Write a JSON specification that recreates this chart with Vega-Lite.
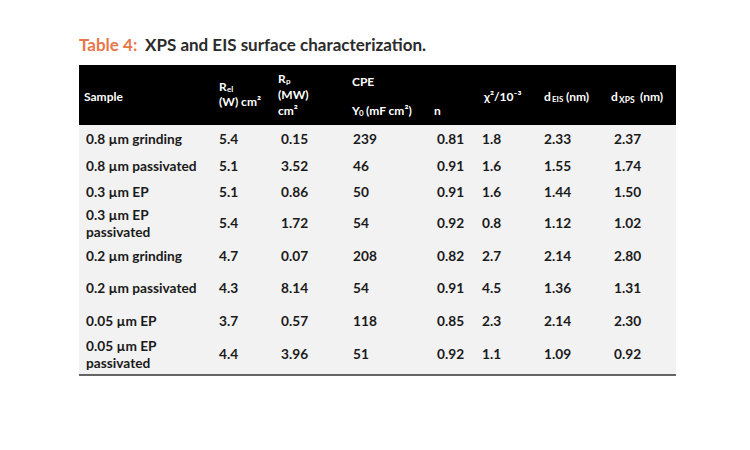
{
  "$schema": "https://vega.github.io/schema/vega-lite/v6.json",
  "background": "white",
  "padding": {"left": 78, "top": 34, "right": 0, "bottom": 0},
  "config": {
    "view": {"stroke": null},
    "concat": {"spacing": 0},
    "text": {"font": "Lato", "fontWeight": "bold", "align": "left", "baseline": "middle"}
  },
  "datasets": {
    "xps": [
      {"Sample": "0.8 µm grinding", "Rel": 5.4, "Rp": 0.15, "Y0": 239, "n": 0.81, "chi2": 1.8, "dEIS": 2.33, "dXPS": 2.37},
      {"Sample": "0.8 µm passivated", "Rel": 5.1, "Rp": 3.52, "Y0": 46, "n": 0.91, "chi2": 1.6, "dEIS": 1.55, "dXPS": 1.74},
      {"Sample": "0.3 µm EP", "Rel": 5.1, "Rp": 0.86, "Y0": 50, "n": 0.91, "chi2": 1.6, "dEIS": 1.44, "dXPS": 1.50},
      {"Sample": "0.3 µm EP\npassivated", "Rel": 5.4, "Rp": 1.72, "Y0": 54, "n": 0.92, "chi2": 0.8, "dEIS": 1.12, "dXPS": 1.02},
      {"Sample": "0.2 µm grinding", "Rel": 4.7, "Rp": 0.07, "Y0": 208, "n": 0.82, "chi2": 2.7, "dEIS": 2.14, "dXPS": 2.80},
      {"Sample": "0.2 µm passivated", "Rel": 4.3, "Rp": 8.14, "Y0": 54, "n": 0.91, "chi2": 4.5, "dEIS": 1.36, "dXPS": 1.31},
      {"Sample": "0.05 µm EP", "Rel": 3.7, "Rp": 0.57, "Y0": 118, "n": 0.85, "chi2": 2.3, "dEIS": 2.14, "dXPS": 2.30},
      {"Sample": "0.05 µm EP\npassivated", "Rel": 4.4, "Rp": 3.96, "Y0": 51, "n": 0.92, "chi2": 1.1, "dEIS": 1.09, "dXPS": 0.92}
    ]
  },
  "spacing": 0,
  "vconcat": [
    {
      "width": 597, "height": 31,
      "data": {"values": [{"number": "Table 4:", "caption": "XPS and EIS surface characterization."}]},
      "encoding": {"x": {"datum": "title", "type": "nominal", "scale": {"type": "band", "paddingInner": 0, "paddingOuter": 0}, "bandPosition": 0, "axis": null}},
      "layer": [
        {"mark": {"type": "text", "baseline": "alphabetic", "fontSize": 17, "color": "#E8774A", "dy": 1}, "encoding": {"text": {"field": "number"}}},
        {"mark": {"type": "text", "baseline": "alphabetic", "fontSize": 17, "color": "#2b2b2b", "dx": 66, "dy": 1}, "encoding": {"text": {"field": "caption"}}}
      ]
    },
    {
      "spacing": 0,
      "bounds": "flush",
      "hconcat": [
        {"width": 135, "height": 60, "view": {"fill": "#000000"}, "data": {"values": [{}]},
         "encoding": {"x": {"datum": "Sample", "type": "nominal", "scale": {"type": "band", "paddingInner": 0, "paddingOuter": 0}, "bandPosition": 0, "axis": null}},
         "layer": [
           {"mark": {"type": "text", "text": "Sample", "dx": 5, "dy": 2, "fontSize": 12, "color": "white"}}
         ]},
        {"width": 62, "height": 60, "view": {"fill": "#000000"}, "data": {"values": [{}]},
         "encoding": {"x": {"datum": "Rel", "type": "nominal", "scale": {"type": "band", "paddingInner": 0, "paddingOuter": 0}, "bandPosition": 0, "axis": null}},
         "layer": [
           {"mark": {"type": "text", "text": "R", "dx": 5, "dy": -8, "fontSize": 12, "color": "white"}},
           {"mark": {"type": "text", "text": "el", "dx": 13, "dy": -5, "fontSize": 8, "color": "white"}},
           {"mark": {"type": "text", "text": "(W) cm²", "dx": 5, "dy": 7, "fontSize": 12, "color": "white"}}
         ]},
        {"width": 72, "height": 60, "view": {"fill": "#000000"}, "data": {"values": [{}]},
         "encoding": {"x": {"datum": "Rp", "type": "nominal", "scale": {"type": "band", "paddingInner": 0, "paddingOuter": 0}, "bandPosition": 0, "axis": null}},
         "layer": [
           {"mark": {"type": "text", "text": "R", "dx": 2, "dy": -16, "fontSize": 12, "color": "white"}},
           {"mark": {"type": "text", "text": "p", "dx": 10, "dy": -13, "fontSize": 8, "color": "white"}},
           {"mark": {"type": "text", "text": "(MW)", "dx": 2, "dy": 0, "fontSize": 12, "color": "white"}},
           {"mark": {"type": "text", "text": "cm²", "dx": 2, "dy": 16, "fontSize": 12, "color": "white"}}
         ]},
        {"width": 84, "height": 60, "view": {"fill": "#000000"}, "data": {"values": [{}]},
         "encoding": {"x": {"datum": "Y0", "type": "nominal", "scale": {"type": "band", "paddingInner": 0, "paddingOuter": 0}, "bandPosition": 0, "axis": null}},
         "layer": [
           {"mark": {"type": "text", "text": "CPE", "dx": 4, "dy": -13, "fontSize": 12, "color": "white"}},
           {"mark": {"type": "text", "text": "Y", "dx": 4, "dy": 16, "fontSize": 12, "color": "white"}},
           {"mark": {"type": "text", "text": "0", "dx": 11, "dy": 19, "fontSize": 8, "color": "white"}},
           {"mark": {"type": "text", "text": "(mF cm²)", "dx": 18, "dy": 16, "fontSize": 12, "color": "white"}}
         ]},
        {"width": 45, "height": 60, "view": {"fill": "#000000"}, "data": {"values": [{}]},
         "encoding": {"x": {"datum": "n", "type": "nominal", "scale": {"type": "band", "paddingInner": 0, "paddingOuter": 0}, "bandPosition": 0, "axis": null}},
         "layer": [
           {"mark": {"type": "text", "text": "n", "dx": 2, "dy": 16, "fontSize": 12, "color": "white"}}
         ]},
        {"width": 62, "height": 60, "view": {"fill": "#000000"}, "data": {"values": [{}]},
         "encoding": {"x": {"datum": "chi2", "type": "nominal", "scale": {"type": "band", "paddingInner": 0, "paddingOuter": 0}, "bandPosition": 0, "axis": null}},
         "layer": [
           {"mark": {"type": "text", "text": "χ²/10⁻³", "dx": 7, "dy": 2, "fontSize": 12, "color": "white"}}
         ]},
        {"width": 70, "height": 60, "view": {"fill": "#000000"}, "data": {"values": [{}]},
         "encoding": {"x": {"datum": "dEIS", "type": "nominal", "scale": {"type": "band", "paddingInner": 0, "paddingOuter": 0}, "bandPosition": 0, "axis": null}},
         "layer": [
           {"mark": {"type": "text", "text": "d", "dx": 5, "dy": 2, "fontSize": 12, "color": "white"}},
           {"mark": {"type": "text", "text": "EIS", "dx": 13, "dy": 5, "fontSize": 8, "color": "white"}},
           {"mark": {"type": "text", "text": "(nm)", "dx": 27, "dy": 2, "fontSize": 12, "color": "white"}}
         ]},
        {"width": 67, "height": 60, "view": {"fill": "#000000"}, "data": {"values": [{}]},
         "encoding": {"x": {"datum": "dXPS", "type": "nominal", "scale": {"type": "band", "paddingInner": 0, "paddingOuter": 0}, "bandPosition": 0, "axis": null}},
         "layer": [
           {"mark": {"type": "text", "text": "d", "dx": 2, "dy": 2, "fontSize": 12, "color": "white"}},
           {"mark": {"type": "text", "text": "XPS", "dx": 10, "dy": 5, "fontSize": 8.5, "color": "white"}},
           {"mark": {"type": "text", "text": "(nm)", "dx": 31, "dy": 2, "fontSize": 12, "color": "white"}}
         ]}
      ]
    },
    {
      "spacing": 0,
      "bounds": "flush",
      "hconcat": [
        {"width": 135, "height": 83, "view": {"fill": "#f2f2f2"}, "data": {"name": "xps"},
         "transform": [{"filter": {"field": "Sample", "oneOf": ["0.8 µm grinding", "0.8 µm passivated", "0.3 µm EP"]}}],
         "mark": {"type": "text", "dx": 7, "fontSize": 13.7, "color": "#1a1a1a"},
         "encoding": {
           "x": {"datum": "Sample", "type": "nominal", "scale": {"type": "band", "paddingInner": 0, "paddingOuter": 0}, "bandPosition": 0, "axis": null},
           "y": {"field": "Sample", "type": "nominal", "sort": null, "scale": {"type": "point", "padding": 0.566}, "axis": null},
           "text": {"field": "Sample", "type": "nominal"}}},
        {"width": 62, "height": 83, "view": {"fill": "#f2f2f2"}, "data": {"name": "xps"},
         "transform": [{"filter": {"field": "Sample", "oneOf": ["0.8 µm grinding", "0.8 µm passivated", "0.3 µm EP"]}}],
         "mark": {"type": "text", "dx": 5, "fontSize": 13.7, "color": "#1a1a1a"},
         "encoding": {
           "x": {"datum": "Rel", "type": "nominal", "scale": {"type": "band", "paddingInner": 0, "paddingOuter": 0}, "bandPosition": 0, "axis": null},
           "y": {"field": "Sample", "type": "nominal", "sort": null, "scale": {"type": "point", "padding": 0.566}, "axis": null},
           "text": {"field": "Rel", "type": "quantitative", "format": ".1f"}}},
        {"width": 72, "height": 83, "view": {"fill": "#f2f2f2"}, "data": {"name": "xps"},
         "transform": [{"filter": {"field": "Sample", "oneOf": ["0.8 µm grinding", "0.8 µm passivated", "0.3 µm EP"]}}],
         "mark": {"type": "text", "dx": 5, "fontSize": 13.7, "color": "#1a1a1a"},
         "encoding": {
           "x": {"datum": "Rp", "type": "nominal", "scale": {"type": "band", "paddingInner": 0, "paddingOuter": 0}, "bandPosition": 0, "axis": null},
           "y": {"field": "Sample", "type": "nominal", "sort": null, "scale": {"type": "point", "padding": 0.566}, "axis": null},
           "text": {"field": "Rp", "type": "quantitative", "format": ".2f"}}},
        {"width": 84, "height": 83, "view": {"fill": "#f2f2f2"}, "data": {"name": "xps"},
         "transform": [{"filter": {"field": "Sample", "oneOf": ["0.8 µm grinding", "0.8 µm passivated", "0.3 µm EP"]}}],
         "mark": {"type": "text", "dx": 5, "fontSize": 13.7, "color": "#1a1a1a"},
         "encoding": {
           "x": {"datum": "Y0", "type": "nominal", "scale": {"type": "band", "paddingInner": 0, "paddingOuter": 0}, "bandPosition": 0, "axis": null},
           "y": {"field": "Sample", "type": "nominal", "sort": null, "scale": {"type": "point", "padding": 0.566}, "axis": null},
           "text": {"field": "Y0", "type": "quantitative", "format": "d"}}},
        {"width": 45, "height": 83, "view": {"fill": "#f2f2f2"}, "data": {"name": "xps"},
         "transform": [{"filter": {"field": "Sample", "oneOf": ["0.8 µm grinding", "0.8 µm passivated", "0.3 µm EP"]}}],
         "mark": {"type": "text", "dx": 5, "fontSize": 13.7, "color": "#1a1a1a"},
         "encoding": {
           "x": {"datum": "n", "type": "nominal", "scale": {"type": "band", "paddingInner": 0, "paddingOuter": 0}, "bandPosition": 0, "axis": null},
           "y": {"field": "Sample", "type": "nominal", "sort": null, "scale": {"type": "point", "padding": 0.566}, "axis": null},
           "text": {"field": "n", "type": "quantitative", "format": ".2f"}}},
        {"width": 62, "height": 83, "view": {"fill": "#f2f2f2"}, "data": {"name": "xps"},
         "transform": [{"filter": {"field": "Sample", "oneOf": ["0.8 µm grinding", "0.8 µm passivated", "0.3 µm EP"]}}],
         "mark": {"type": "text", "dx": 5, "fontSize": 13.7, "color": "#1a1a1a"},
         "encoding": {
           "x": {"datum": "chi2", "type": "nominal", "scale": {"type": "band", "paddingInner": 0, "paddingOuter": 0}, "bandPosition": 0, "axis": null},
           "y": {"field": "Sample", "type": "nominal", "sort": null, "scale": {"type": "point", "padding": 0.566}, "axis": null},
           "text": {"field": "chi2", "type": "quantitative", "format": ".1f"}}},
        {"width": 70, "height": 83, "view": {"fill": "#f2f2f2"}, "data": {"name": "xps"},
         "transform": [{"filter": {"field": "Sample", "oneOf": ["0.8 µm grinding", "0.8 µm passivated", "0.3 µm EP"]}}],
         "mark": {"type": "text", "dx": 5, "fontSize": 13.7, "color": "#1a1a1a"},
         "encoding": {
           "x": {"datum": "dEIS", "type": "nominal", "scale": {"type": "band", "paddingInner": 0, "paddingOuter": 0}, "bandPosition": 0, "axis": null},
           "y": {"field": "Sample", "type": "nominal", "sort": null, "scale": {"type": "point", "padding": 0.566}, "axis": null},
           "text": {"field": "dEIS", "type": "quantitative", "format": ".2f"}}},
        {"width": 67, "height": 83, "view": {"fill": "#f2f2f2"}, "data": {"name": "xps"},
         "transform": [{"filter": {"field": "Sample", "oneOf": ["0.8 µm grinding", "0.8 µm passivated", "0.3 µm EP"]}}],
         "mark": {"type": "text", "dx": 5, "fontSize": 13.7, "color": "#1a1a1a"},
         "encoding": {
           "x": {"datum": "dXPS", "type": "nominal", "scale": {"type": "band", "paddingInner": 0, "paddingOuter": 0}, "bandPosition": 0, "axis": null},
           "y": {"field": "Sample", "type": "nominal", "sort": null, "scale": {"type": "point", "padding": 0.566}, "axis": null},
           "text": {"field": "dXPS", "type": "quantitative", "format": ".2f"}}}
      ]
    },
    {
      "spacing": 0,
      "bounds": "flush",
      "hconcat": [
        {"width": 135, "height": 167, "view": {"fill": "#f2f2f2"},
         "layer": [
           {"data": {"name": "xps"},
            "transform": [{"filter": {"field": "Sample", "oneOf": ["0.2 µm grinding", "0.2 µm passivated", "0.05 µm EP"]}}],
            "mark": {"type": "text", "dx": 7, "fontSize": 13.7, "color": "#1a1a1a"},
            "encoding": {
              "x": {"datum": "Sample", "type": "nominal", "scale": {"type": "band", "paddingInner": 0, "paddingOuter": 0}, "bandPosition": 0, "axis": null},
              "y": {"field": "Sample", "type": "nominal", "scale": {"type": "point", "padding": 0.55, "align": 0.44, "domain": ["0.3 µm EP\npassivated", "0.2 µm grinding", "0.2 µm passivated", "0.05 µm EP", "0.05 µm EP\npassivated"]}, "axis": null},
              "text": {"field": "Sample", "type": "nominal"}}},
           {"data": {"name": "xps"},
            "transform": [{"filter": {"field": "Sample", "oneOf": ["0.3 µm EP\npassivated", "0.05 µm EP\npassivated"]}}],
            "mark": {"type": "text", "dx": 7, "dy": -8, "fontSize": 13.7, "color": "#1a1a1a", "lineBreak": "\n", "lineHeight": 17},
            "encoding": {
              "x": {"datum": "Sample", "type": "nominal", "scale": {"type": "band", "paddingInner": 0, "paddingOuter": 0}, "bandPosition": 0, "axis": null},
              "y": {"field": "Sample", "type": "nominal", "scale": {"type": "point", "padding": 0.55, "align": 0.44, "domain": ["0.3 µm EP\npassivated", "0.2 µm grinding", "0.2 µm passivated", "0.05 µm EP", "0.05 µm EP\npassivated"]}, "axis": null},
              "text": {"field": "Sample", "type": "nominal"}}},
           {"data": {"values": [{}]}, "mark": {"type": "rule", "color": "#333333", "strokeWidth": 1.6}, "encoding": {"y": {"value": "height"}}}
         ]},
        {"width": 62, "height": 167, "view": {"fill": "#f2f2f2"},
         "layer": [
           {"data": {"name": "xps"},
            "transform": [{"filter": {"not": {"field": "Sample", "oneOf": ["0.8 µm grinding", "0.8 µm passivated", "0.3 µm EP"]}}}],
            "mark": {"type": "text", "dx": 5, "fontSize": 13.7, "color": "#1a1a1a"},
            "encoding": {
              "x": {"datum": "Rel", "type": "nominal", "scale": {"type": "band", "paddingInner": 0, "paddingOuter": 0}, "bandPosition": 0, "axis": null},
              "y": {"field": "Sample", "type": "nominal", "sort": null, "scale": {"type": "point", "padding": 0.55, "align": 0.44}, "axis": null},
              "text": {"field": "Rel", "type": "quantitative", "format": ".1f"}}},
           {"data": {"values": [{}]}, "mark": {"type": "rule", "color": "#333333", "strokeWidth": 1.6}, "encoding": {"y": {"value": "height"}}}
         ]},
        {"width": 72, "height": 167, "view": {"fill": "#f2f2f2"},
         "layer": [
           {"data": {"name": "xps"},
            "transform": [{"filter": {"not": {"field": "Sample", "oneOf": ["0.8 µm grinding", "0.8 µm passivated", "0.3 µm EP"]}}}],
            "mark": {"type": "text", "dx": 5, "fontSize": 13.7, "color": "#1a1a1a"},
            "encoding": {
              "x": {"datum": "Rp", "type": "nominal", "scale": {"type": "band", "paddingInner": 0, "paddingOuter": 0}, "bandPosition": 0, "axis": null},
              "y": {"field": "Sample", "type": "nominal", "sort": null, "scale": {"type": "point", "padding": 0.55, "align": 0.44}, "axis": null},
              "text": {"field": "Rp", "type": "quantitative", "format": ".2f"}}},
           {"data": {"values": [{}]}, "mark": {"type": "rule", "color": "#333333", "strokeWidth": 1.6}, "encoding": {"y": {"value": "height"}}}
         ]},
        {"width": 84, "height": 167, "view": {"fill": "#f2f2f2"},
         "layer": [
           {"data": {"name": "xps"},
            "transform": [{"filter": {"not": {"field": "Sample", "oneOf": ["0.8 µm grinding", "0.8 µm passivated", "0.3 µm EP"]}}}],
            "mark": {"type": "text", "dx": 5, "fontSize": 13.7, "color": "#1a1a1a"},
            "encoding": {
              "x": {"datum": "Y0", "type": "nominal", "scale": {"type": "band", "paddingInner": 0, "paddingOuter": 0}, "bandPosition": 0, "axis": null},
              "y": {"field": "Sample", "type": "nominal", "sort": null, "scale": {"type": "point", "padding": 0.55, "align": 0.44}, "axis": null},
              "text": {"field": "Y0", "type": "quantitative", "format": "d"}}},
           {"data": {"values": [{}]}, "mark": {"type": "rule", "color": "#333333", "strokeWidth": 1.6}, "encoding": {"y": {"value": "height"}}}
         ]},
        {"width": 45, "height": 167, "view": {"fill": "#f2f2f2"},
         "layer": [
           {"data": {"name": "xps"},
            "transform": [{"filter": {"not": {"field": "Sample", "oneOf": ["0.8 µm grinding", "0.8 µm passivated", "0.3 µm EP"]}}}],
            "mark": {"type": "text", "dx": 5, "fontSize": 13.7, "color": "#1a1a1a"},
            "encoding": {
              "x": {"datum": "n", "type": "nominal", "scale": {"type": "band", "paddingInner": 0, "paddingOuter": 0}, "bandPosition": 0, "axis": null},
              "y": {"field": "Sample", "type": "nominal", "sort": null, "scale": {"type": "point", "padding": 0.55, "align": 0.44}, "axis": null},
              "text": {"field": "n", "type": "quantitative", "format": ".2f"}}},
           {"data": {"values": [{}]}, "mark": {"type": "rule", "color": "#333333", "strokeWidth": 1.6}, "encoding": {"y": {"value": "height"}}}
         ]},
        {"width": 62, "height": 167, "view": {"fill": "#f2f2f2"},
         "layer": [
           {"data": {"name": "xps"},
            "transform": [{"filter": {"not": {"field": "Sample", "oneOf": ["0.8 µm grinding", "0.8 µm passivated", "0.3 µm EP"]}}}],
            "mark": {"type": "text", "dx": 5, "fontSize": 13.7, "color": "#1a1a1a"},
            "encoding": {
              "x": {"datum": "chi2", "type": "nominal", "scale": {"type": "band", "paddingInner": 0, "paddingOuter": 0}, "bandPosition": 0, "axis": null},
              "y": {"field": "Sample", "type": "nominal", "sort": null, "scale": {"type": "point", "padding": 0.55, "align": 0.44}, "axis": null},
              "text": {"field": "chi2", "type": "quantitative", "format": ".1f"}}},
           {"data": {"values": [{}]}, "mark": {"type": "rule", "color": "#333333", "strokeWidth": 1.6}, "encoding": {"y": {"value": "height"}}}
         ]},
        {"width": 70, "height": 167, "view": {"fill": "#f2f2f2"},
         "layer": [
           {"data": {"name": "xps"},
            "transform": [{"filter": {"not": {"field": "Sample", "oneOf": ["0.8 µm grinding", "0.8 µm passivated", "0.3 µm EP"]}}}],
            "mark": {"type": "text", "dx": 5, "fontSize": 13.7, "color": "#1a1a1a"},
            "encoding": {
              "x": {"datum": "dEIS", "type": "nominal", "scale": {"type": "band", "paddingInner": 0, "paddingOuter": 0}, "bandPosition": 0, "axis": null},
              "y": {"field": "Sample", "type": "nominal", "sort": null, "scale": {"type": "point", "padding": 0.55, "align": 0.44}, "axis": null},
              "text": {"field": "dEIS", "type": "quantitative", "format": ".2f"}}},
           {"data": {"values": [{}]}, "mark": {"type": "rule", "color": "#333333", "strokeWidth": 1.6}, "encoding": {"y": {"value": "height"}}}
         ]},
        {"width": 67, "height": 167, "view": {"fill": "#f2f2f2"},
         "layer": [
           {"data": {"name": "xps"},
            "transform": [{"filter": {"not": {"field": "Sample", "oneOf": ["0.8 µm grinding", "0.8 µm passivated", "0.3 µm EP"]}}}],
            "mark": {"type": "text", "dx": 5, "fontSize": 13.7, "color": "#1a1a1a"},
            "encoding": {
              "x": {"datum": "dXPS", "type": "nominal", "scale": {"type": "band", "paddingInner": 0, "paddingOuter": 0}, "bandPosition": 0, "axis": null},
              "y": {"field": "Sample", "type": "nominal", "sort": null, "scale": {"type": "point", "padding": 0.55, "align": 0.44}, "axis": null},
              "text": {"field": "dXPS", "type": "quantitative", "format": ".2f"}}},
           {"data": {"values": [{}]}, "mark": {"type": "rule", "color": "#333333", "strokeWidth": 1.6}, "encoding": {"y": {"value": "height"}}}
         ]}
      ]
    }
  ]
}
